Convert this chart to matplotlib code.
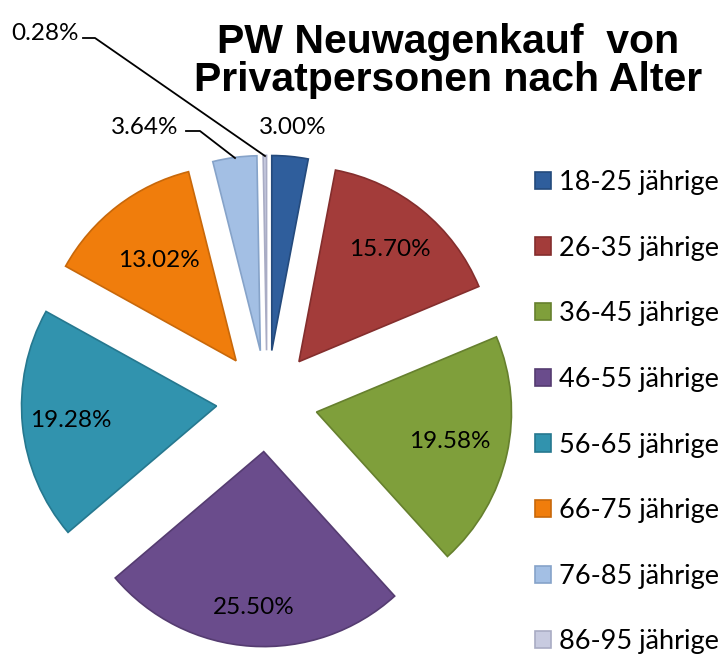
import numpy as np
import matplotlib
matplotlib.use("Agg")
import matplotlib.pyplot as plt

# data
groups = ["18-25 jährige", "26-35 jährige", "36-45 jährige", "46-55 jährige",
          "56-65 jährige", "66-75 jährige", "76-85 jährige", "86-95 jährige"]
shares = [3.00, 15.70, 19.58, 25.50, 19.28, 13.02, 3.64, 0.28]

colors = ["#2F5E9C", "#A33C3A", "#7F9F3B", "#6A4C8C",
          "#3193AE", "#F07D0C", "#A3BFE4", "#C8CBE0"]
edges = ["#244a7c", "#842e2d", "#66802e", "#553c71",
         "#26788f", "#c8680a", "#86a3c9", "#a9acc4"]
# label distance from pie centre (in radii)
label_r = [1.41, 1.0, 0.96, 1.06, 1.01, 0.91, None, None]

plt.rcParams['font.family'] = ['Lato', 'DejaVu Sans']

fig = plt.figure(figsize=(7.25, 6.58), dpi=100)
ax = fig.add_axes([0, 0, 1, 1])

wedges, _ = ax.pie(shares, startangle=90, counterclock=False, colors=colors,
                   explode=[0.26] * len(shares), radius=1.0,
                   wedgeprops=dict(linewidth=1.2))
for w, ec in zip(wedges, edges):
    w.set_edgecolor(ec)

ax.set_xlim(-267 / 195, (725 - 267) / 195)
ax.set_ylim(-(658 - 401) / 195, 401 / 195)
ax.set_aspect('equal')
ax.axis('off')

cum = np.cumsum([0] + shares)
for i, v in enumerate(shares):
    mid = np.deg2rad(90 - 3.6 * (cum[i] + cum[i + 1]) / 2)
    r = label_r[i]
    if r is None:
        continue
    ax.text(r * np.cos(mid), r * np.sin(mid), f"{v:.2f}%", ha='center',
            va='center', fontsize=17.5, color='black')


def px(x, y):
    # picture pixels -> data units
    return (x - 267) / 195, (401 - y) / 195


# leader-line labels for the small slices
leaders = {6: (145, 127, 186, 200, 235, 158), 7: (45, 34, 83, 95, 265, 156)}
for i, (tx, ty, sx, bx, ex, ey) in leaders.items():
    ax.text(*px(tx, ty), f"{shares[i]:.2f}%", ha='center', va='center',
            fontsize=17.5, color='black')
    xs, ys = zip(px(sx, ty + 4), px(bx, ty + 4), px(ex, ey))
    ax.plot(xs, ys, color='black', linewidth=1.3)

fig.text(448 / 725, 1 - 61 / 658, "PW Neuwagenkauf  von\nPrivatpersonen nach Alter",
         ha='center', va='center', fontsize=29.5, fontweight='bold',
         family=['Liberation Sans', 'DejaVu Sans'], linespacing=1.0)

leg = fig.legend(wedges, groups, loc='upper left', bbox_to_anchor=(535 / 725, 1 - 170 / 658),
                 frameon=False, fontsize=19.5, handlelength=0.6, handleheight=0.6,
                 handletextpad=0.3, labelspacing=1.5, borderpad=0, borderaxespad=0)

fig.savefig("out.png", dpi=100)
